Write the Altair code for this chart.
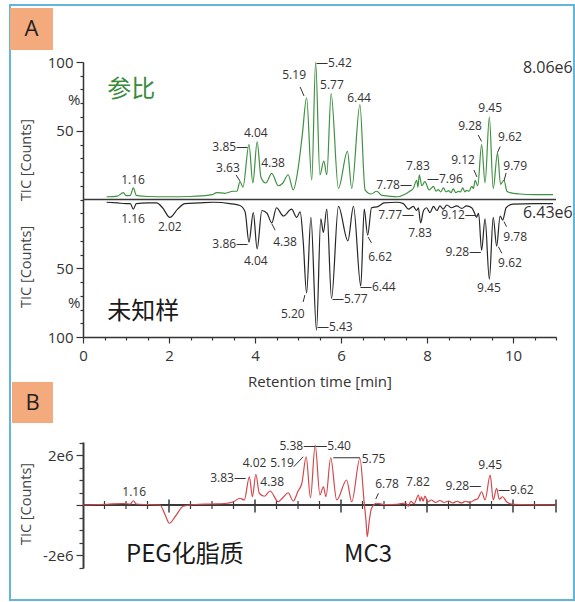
import altair as alt
import pandas as pd

FONT = "Open Sans"
CJK = "Noto Sans CJK SC"
TXT = "#333333"

# ---- traces: (retention time [min], intensity) ----
ref_trace = [(0.55, 2.0), (0.80, 2.5), (0.94, 5.0), (1.00, 2.8), (1.10, 3.0), (1.17, 8.5), (1.24, 3.0),
             (1.50, 2.2), (2.00, 2.0), (2.50, 2.2), (3.00, 3.5), (3.11, 5.0), (3.30, 4.5), (3.49, 6.0),
             (3.58, 6.0), (3.65, 13), (3.72, 9), (3.86, 40), (3.95, 12), (4.05, 42), (4.14, 16), (4.25, 12),
             (4.39, 19), (4.54, 10), (4.65, 12), (4.77, 18), (4.89, 7), (5.00, 22), (5.10, 47), (5.20, 74),
             (5.32, 14), (5.41, 100), (5.51, 18), (5.60, 28), (5.67, 18), (5.77, 77), (5.94, 8), (6.15, 35),
             (6.25, 8), (6.44, 69), (6.56, 7), (6.70, 4), (6.83, 6), (6.95, 3), (7.10, 2.5), (7.30, 2),
             (7.50, 4), (7.60, 6), (7.68, 8), (7.76, 14), (7.79, 9), (7.82, 18), (7.88, 10), (7.95, 13),
             (8.05, 7), (8.15, 9.6), (8.21, 6), (8.26, 7.2), (8.32, 5.5), (8.38, 8.5), (8.44, 5.5), (8.50, 6.5),
             (8.56, 5), (8.61, 7.7), (8.67, 5), (8.73, 6), (8.78, 5.5), (8.83, 8.5), (8.88, 5.5), (8.92, 6.7),
             (8.98, 6), (9.04, 9.6), (9.08, 8), (9.12, 14), (9.18, 10), (9.27, 40), (9.35, 12), (9.45, 60),
             (9.54, 8), (9.64, 34), (9.71, 11), (9.79, 14), (9.86, 6), (9.93, 5), (10.16, 4), (10.50, 3.5),
             (10.93, 3.5)]

sample_trace = [(0.55, -2), (0.80, -2.5), (1.00, -3), (1.10, -3), (1.17, -7), (1.24, -3), (1.50, -2.5),
                (1.71, -2.5), (1.85, -6), (2.02, -13), (2.20, -7), (2.37, -3), (2.70, -2.5), (3.03, -2),
                (3.42, -3), (3.65, -4.4), (3.77, -9), (3.86, -31), (3.96, -9.5), (4.05, -36), (4.16, -8),
                (4.28, -10), (4.39, -17), (4.50, -6), (4.66, -12), (4.85, -7), (4.97, -13), (5.05, -9),
                (5.12, -30), (5.20, -68), (5.30, -13), (5.43, -95), (5.53, -14), (5.59, -24), (5.67, -7),
                (5.78, -72), (5.94, -5), (6.16, -30), (6.29, -5), (6.46, -63), (6.54, -7), (6.62, -26),
                (6.71, -6), (6.87, -5), (7.00, -2.5), (7.30, -2), (7.45, -3), (7.57, -7), (7.68, -5),
                (7.76, -8), (7.80, -6), (7.85, -17), (7.92, -8), (7.99, -6), (8.07, -9.5), (8.15, -5),
                (8.23, -8), (8.30, -4.6), (8.38, -7), (8.46, -4), (8.57, -6), (8.69, -4.6), (8.81, -6.5),
                (8.92, -4.6), (9.04, -6), (9.10, -9.5), (9.15, -13), (9.20, -10), (9.27, -37), (9.35, -14),
                (9.45, -58), (9.54, -13), (9.62, -34), (9.70, -12), (9.76, -15), (9.84, -6), (10.0, -3.4),
                (10.5, -3), (10.93, -3)]

# difference trace, in units of 1e6 counts
diff_trace = [(0.0, 0.0), (0.55, 0.03), (0.94, 0.06), (1.10, 0.04), (1.17, 0.17), (1.24, 0.04), (1.79, 0.0),
              (1.90, -0.35), (2.01, -0.73), (2.15, -0.45), (2.33, -0.05), (2.60, 0.02), (3.00, 0.04),
              (3.30, 0.06), (3.50, 0.13), (3.65, 0.27), (3.75, 0.2), (3.87, 1.13), (3.94, 0.33), (4.02, 1.23),
              (4.10, 0.47), (4.22, 0.35), (4.35, 0.56), (4.54, 0.13), (4.65, 0.3), (4.77, 0.49), (4.89, 0.16),
              (5.00, 0.55), (5.09, 0.87), (5.19, 1.93), (5.29, 0.29), (5.40, 2.4), (5.51, 0.4), (5.59, 0.73),
              (5.65, 0.33), (5.76, 1.89), (5.90, 0.2), (6.13, 1.0), (6.25, 0.13), (6.44, 1.87), (6.54, 0.07),
              (6.58, -0.6), (6.61, -1.27), (6.66, -0.6), (6.71, -0.13), (6.83, 0.07), (7.00, 0.02),
              (7.30, 0.03), (7.50, 0.08), (7.57, -0.05), (7.62, 0.15), (7.70, 0.05), (7.80, 0.4), (7.84, 0.15),
              (7.87, 0.33), (7.91, 0.15), (7.95, 0.36), (8.02, 0.12), (8.10, 0.2), (8.20, 0.1), (8.30, 0.18),
              (8.40, 0.1), (8.50, 0.16), (8.60, 0.08), (8.70, 0.15), (8.80, 0.08), (8.90, 0.15), (9.00, 0.1),
              (9.10, 0.2), (9.18, 0.25), (9.27, 0.53), (9.35, 0.2), (9.47, 1.2), (9.54, 0.2), (9.62, 0.67),
              (9.68, 0.23), (9.76, 0.33), (9.85, 0.13), (10.0, 0.03), (11.0, 0.0)]

# ---- peak labels (text, time, value) ----
labels_A_center = [("1.16", 1.163, 14.2), ("3.63", 3.37, 22.9), ("4.04", 4.02, 48.4), ("4.38", 4.42, 26.5),
                   ("5.19", 4.91, 90.5), ("5.77", 5.79, 83.3), ("6.44", 6.42, 73.8), ("7.83", 7.79, 24.4),
                   ("9.12", 8.84, 28.7), ("9.28", 9.0, 53.5), ("9.45", 9.47, 66.5), ("9.62", 9.93, 45.5),
                   ("9.79", 10.05, 24.4), ("1.16", 1.163, -14.2), ("2.02", 2.02, -20), ("4.04", 4.02, -44.7),
                   ("4.38", 4.70, -30.9), ("5.20", 4.88, -83.3), ("6.62", 6.91, -41.8), ("7.83", 7.84, -24.4),
                   ("9.45", 9.44, -64.4), ("9.62", 9.93, -46.2), ("9.78", 10.05, -27.3)]
labels_A_left = [("—5.42", 5.42, 99.3), ("—7.96", 8.0, 14.9), ("—5.43", 5.44, -92.7),
                 ("—5.77", 5.79, -72.4), ("—6.44", 6.44, -63.4)]
labels_A_right = [("3.85—", 3.84, 38.2), ("7.78—", 7.65, 10.5), ("3.86—", 3.84, -32.4),
                  ("7.77—", 7.70, -11.3), ("9.12—", 9.16, -11.3), ("9.28—", 9.26, -38.2)]
labels_A_scale = [("8.06e6", 10.81, 95.6), ("6.43e6", 10.81, -9.8)]
leaders_A = [(3.56, 17.8, 3.65, 13.5), (5.05, 81.8, 5.14, 75.3), (9.09, 21.5, 9.16, 16.4),
             (9.19, 46.9, 9.27, 42.2), (9.70, 38.5, 9.64, 34.2), (9.84, 19.3, 9.79, 13.5),
             (4.39, -17.6, 4.47, -22.4), (5.16, -69.5, 5.12, -74.5), (6.63, -27.3, 6.71, -31.6),
             (9.66, -34.3, 9.74, -39.1), (9.79, -16.1, 9.85, -19.8)]

labels_B_center = [("1.16", 1.19, 0.52), ("4.02", 3.99, 1.68), ("4.38", 4.40, 0.92), ("5.19", 4.63, 1.68),
                   ("6.78", 7.07, 0.84), ("7.82", 7.79, 0.92), ("9.45", 9.47, 1.6)]
labels_B_left = [("—5.40", 5.40, 2.36), ("5.75", 6.48, 1.84), ("—9.62", 9.65, 0.6)]
labels_B_right = [("3.83—", 3.79, 1.08), ("5.38—", 5.40, 2.36), ("9.28—", 9.26, 0.76)]
leaders_B = [(4.90, 1.53, 5.12, 1.93), (5.82, 1.89, 6.44, 1.89), (6.87, 0.47, 6.81, 0.24)]

names_A = [("参比", 1.12, 79.6, "#3a8a3c"), ("未知样", 1.40, -81.8, "#1a1a1a")]
names_B = [("PEG化脂质", 2.37, -2.0, "#1a1a1a"), ("MC3", 6.63, -2.0, "#1a1a1a")]

x_ticks = [i * 0.5 for i in range(23)]
yA_ticks = [-100, -90, -80, -75, -70, -60, -50, -40, -30, -20, -10, 0, 10, 20, 30, 40, 50, 60, 70, 72.5, 80, 90, 100]
yB_ticks = [-2.5, -2.0, -1.5, -1.0, -0.5, 0.0, 0.5, 1.0, 1.5, 2.0, 2.5]
xB_major = [2, 4, 6, 8, 10, 11]
xB_minor = [0.5, 1, 1.5, 2.5, 3, 3.5, 4.5, 5, 5.5, 6.5, 7, 7.5, 8.5, 9, 9.5, 10.5]

W = 473
HA = 275
HB = 126

xs = alt.Scale(domain=[0, 11], nice=False, zero=False)
ysA = alt.Scale(domain=[-100, 100], nice=False, zero=False)
ysB = alt.Scale(domain=[-2.52, 2.52], nice=False, zero=False)

xaxisA = alt.Axis(values=x_ticks, title="Retention time [min]",
                  labelExpr="datum.value % 2 === 0 ? '' + datum.value : ''",
                  tickSize={"condition": {"test": "datum.value % 2 === 0", "value": 6}, "value": 3},
                  domainColor="#333333", domainWidth=1.5, tickColor="#333333", tickWidth=1.2,
                  labelFont=FONT, labelFontSize=15, labelColor=TXT, labelPadding=5, labelFlush=False,
                  titleFont=FONT, titleFontSize=15, titleFontWeight="normal", titleColor=TXT, titlePadding=11,
                  grid=False)
yaxisA = alt.Axis(values=yA_ticks, title=None,
                  labelExpr="(datum.value === 72.5 || datum.value === -75) ? '%' : ((abs(datum.value) === 100 || abs(datum.value) === 50) ? '' + abs(datum.value) : '')",
                  tickSize={"condition": [{"test": "abs(datum.value) === 100 || abs(datum.value) === 50", "value": 7},
                                          {"test": "datum.value === 72.5 || datum.value === -75", "value": 0}],
                            "value": 3},
                  domainColor="#333333", domainWidth=1.5, tickColor="#333333", tickWidth=1.2,
                  labelFont=FONT, labelFontSize=15, labelColor=TXT, labelPadding=3, grid=False)
yaxisB = alt.Axis(values=yB_ticks, title=None,
                  labelExpr="datum.value === 2 ? '2e6' : (datum.value === -2 ? '-2e6' : '')",
                  tickSize={"condition": {"test": "abs(datum.value) === 2 || datum.value === 0", "value": 7}, "value": 4},
                  domainColor="#3a3a3a", domainWidth=2, tickColor="#3a3a3a", tickWidth=1.2,
                  labelFont=FONT, labelFontSize=15, labelColor=TXT, labelPadding=3, grid=False)

XA = alt.X("t:Q", scale=xs, axis=xaxisA)
YA = alt.Y("v:Q", scale=ysA, axis=yaxisA)
XB = alt.X("t:Q", scale=xs, axis=None)
YB = alt.Y("v:Q", scale=ysB, axis=yaxisB)

one = pd.DataFrame({"k": [0]})


def df2(pairs):
    return pd.DataFrame(pairs, columns=["t", "v"])


def text_layer(rows, align, X, Y, size=12, font=FONT, color=TXT):
    d = pd.DataFrame(rows, columns=["label", "t", "v"])
    return alt.Chart(d).mark_text(align=align, baseline="middle", fontSize=size, font=font,
                                  color=color).encode(x=X, y=Y, text="label:N")


def leader_layer(rows, X, Y):
    d = pd.DataFrame(rows, columns=["t", "v", "t2", "v2"])
    return alt.Chart(d).mark_rule(color="#333333", strokeWidth=1).encode(
        x=X, y=Y, x2=alt.X2("t2"), y2=alt.Y2("v2"))


def name_layer(rows, X, Y):
    d = pd.DataFrame(rows, columns=["label", "t", "v", "c"])
    return alt.Chart(d).mark_text(align="center", baseline="middle", fontSize=24, font=CJK).encode(
        x=X, y=Y, text="label:N", color=alt.Color("c:N", scale=None))


def ytitle(v, Y):
    d = pd.DataFrame({"label": ["TIC [Counts]"], "v": [v]})
    return alt.Chart(d).mark_text(angle=270, fontSize=14.5, font=FONT, color="#444444",
                                  baseline="middle", align="center").encode(
        x=alt.value(-56), y=Y, text="label:N")


# ---------------- panel A ----------------
frame = alt.Chart(one).mark_rect(fill="transparent", stroke="#63b6d8", strokeWidth=2).encode(
    x=alt.value(-73), x2=alt.value(491), y=alt.value(-57), y2=alt.value(538))
boxA = alt.Chart(one).mark_rect(fill="#f3aa7c").encode(
    x=alt.value(-73), x2=alt.value(-30), y=alt.value(-54), y2=alt.value(-12))
letterA = alt.Chart(pd.DataFrame({"label": ["A"]})).mark_text(
    fontSize=22, font=FONT, color="#222222", align="center", baseline="middle").encode(
    x=alt.value(-51.5), y=alt.value(-33), text="label:N")

zeroA = alt.Chart(pd.DataFrame({"v": [0]})).mark_rule(color="#3a3a3a", strokeWidth=1.6).encode(y=YA)
green = alt.Chart(df2(ref_trace)).mark_line(color="#3f9142", strokeWidth=1.2, interpolate="monotone").encode(x=XA, y=YA)
black = alt.Chart(df2(sample_trace)).mark_line(color="#262626", strokeWidth=1.2, interpolate="monotone").encode(x=XA, y=YA)

panelA = alt.layer(
    frame, boxA, letterA, zeroA, green, black,
    leader_layer(leaders_A, XA, YA),
    text_layer(labels_A_center, "center", XA, YA),
    text_layer(labels_A_left, "left", XA, YA),
    text_layer(labels_A_right, "right", XA, YA),
    text_layer(labels_A_scale, "center", XA, YA, size=16),
    name_layer(names_A, XA, YA),
    ytitle(28.7, YA), ytitle(-49, YA),
).properties(width=W, height=HA)

# ---------------- panel B ----------------
boxB = alt.Chart(one).mark_rect(fill="#f3aa7c").encode(
    x=alt.value(-71), x2=alt.value(-30), y=alt.value(-60), y2=alt.value(-19))
letterB = alt.Chart(pd.DataFrame({"label": ["B"]})).mark_text(
    fontSize=22, font=FONT, color="#222222", align="center", baseline="middle").encode(
    x=alt.value(-50.5), y=alt.value(-39.5), text="label:N")

zeroB = alt.Chart(pd.DataFrame({"v": [0]})).mark_rule(color="#3a3a3a", strokeWidth=2.2).encode(y=YB)
majB = alt.Chart(pd.DataFrame({"t": xB_major, "v": [0.22] * len(xB_major), "v2": [-0.3] * len(xB_major)})).mark_rule(
    color="#3a3a3a", strokeWidth=1.5).encode(x=XB, y=YB, y2=alt.Y2("v2"))
minB = alt.Chart(pd.DataFrame({"t": xB_minor, "v": [0.16] * len(xB_minor), "v2": [-0.16] * len(xB_minor)})).mark_rule(
    color="#3a3a3a", strokeWidth=1.2).encode(x=XB, y=YB, y2=alt.Y2("v2"))
red = alt.Chart(df2(diff_trace)).mark_line(color="#d4474b", strokeWidth=1.2, interpolate="monotone").encode(x=XB, y=YB)

panelB = alt.layer(
    boxB, letterB, zeroB, majB, minB, red,
    leader_layer(leaders_B, XB, YB),
    text_layer(labels_B_center, "center", XB, YB),
    text_layer(labels_B_left, "left", XB, YB),
    text_layer(labels_B_right, "right", XB, YB),
    name_layer(names_B, XB, YB),
    ytitle(0.04, YB),
).properties(width=W, height=HB)

chart = alt.vconcat(panelA, panelB, spacing=105, bounds="flush").properties(
    padding={"left": 9, "top": 4, "right": 0, "bottom": 0},
    background="white",
).configure_view(strokeWidth=0)

chart.save("out.html", embed_options={"renderer": "svg", "actions": False})
